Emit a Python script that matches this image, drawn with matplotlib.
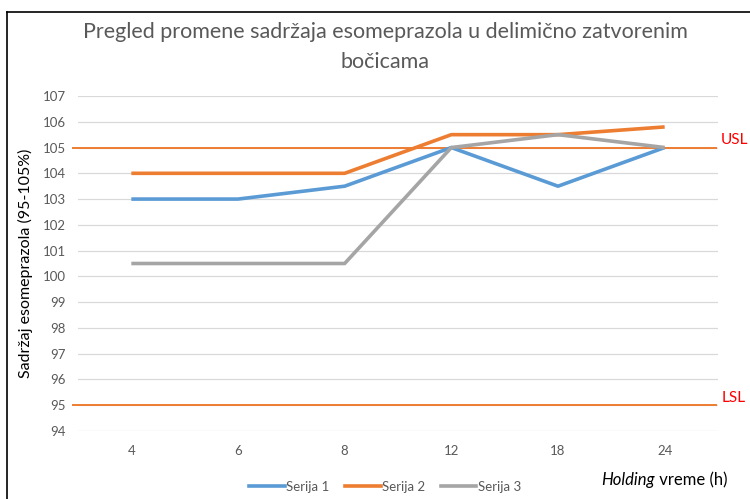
import matplotlib
matplotlib.use("Agg")
import matplotlib.pyplot as plt
from matplotlib.lines import Line2D

plt.rcParams['font.family'] = ['Lato', 'DejaVu Sans']

categories = ["4", "6", "8", "12", "18", "24"]
serija1 = [103, 103, 103.5, 105, 103.5, 105]
serija2 = [104, 104, 104, 105.5, 105.5, 105.8]
serija3 = [100.5, 100.5, 100.5, 105, 105.5, 105]
series_names = ["Serija 1", "Serija 2", "Serija 3"]
colors = ["#5B9BD5", "#ED7D31", "#A5A5A5"]
usl, lsl = 105, 95
y_ticks = list(range(94, 108))

W, H = 750, 499
fig = plt.figure(figsize=(W / 100, H / 100), dpi=100)

# plot area in pixel coordinates
x0, x1, ytop, ybot = 78, 718, 96, 431
ax = fig.add_axes([x0 / W, 1 - ybot / H, (x1 - x0) / W, (ybot - ytop) / H])

xs = [i + 0.5 for i in range(len(categories))]
for vals, name, c in zip([serija1, serija2, serija3], series_names, colors):
    ax.plot(xs, vals, color=c, lw=2.6, label=name, solid_capstyle='butt', zorder=3)

ax.set_xlim(0, len(categories))
ax.set_ylim(94, 107)
ax.set_yticks(y_ticks)
ax.set_xticks(xs)
ax.set_xticklabels(categories)
ax.tick_params(length=0, colors="#595959", labelsize=9.5)
ax.tick_params(axis='y', pad=9)
ax.tick_params(axis='x', pad=10)
ax.grid(axis='y', color="#D9D9D9", lw=0.9)
ax.set_axisbelow(True)
for s in ax.spines.values():
    s.set_visible(False)

# specification limits
for lim, lab in [(usl, "USL"), (lsl, "LSL")]:
    ax.plot([-0.05, 5.98], [lim, lim], color="#ED7D31", lw=1.4, clip_on=False, zorder=2)
    ax.text(6.03, lim + 0.3, lab, color="#FF0000", fontsize=11, ha='left', va='center',
            transform=ax.transData, clip_on=False)

ax.set_ylabel("Sadržaj esomeprazola (95-105%)", fontsize=11.5, color="black", labelpad=7)

# title
fig.text(385 / W, 1 - 32 / H, "Pregled promene sadržaja esomeprazola u delimično zatvorenim",
         ha='center', va='center', fontsize=15.5, color="#595959")
fig.text(385 / W, 1 - 62 / H, "bočicama",
         ha='center', va='center', fontsize=15.5, color="#595959")

# x axis title with italic first word
xt, yt = 655 / W, 1 - 480 / H
fig.text(xt, yt, "Holding", style='italic', ha='right', va='center', fontsize=12)
fig.text(xt, yt, " vreme (h)", ha='left', va='center', fontsize=12)

# legend
handles = [Line2D([], [], color=c, lw=2.6) for c in colors]
fig.legend(handles, series_names, loc='center', bbox_to_anchor=(385 / W, 1 - 487 / H),
           ncol=3, frameon=False, fontsize=9.5, labelcolor="#595959",
           handlelength=2.7, handletextpad=0.1, columnspacing=1.2)

# outer frame on left and top edges
fig.add_artist(Line2D([7 / W, 7 / W], [0, 1 - 12 / H], color="black", lw=1.2, transform=fig.transFigure))
fig.add_artist(Line2D([7 / W, 1], [1 - 12 / H, 1 - 12 / H], color="black", lw=1.2, transform=fig.transFigure))

fig.savefig("out.png", dpi=100, facecolor="white")
